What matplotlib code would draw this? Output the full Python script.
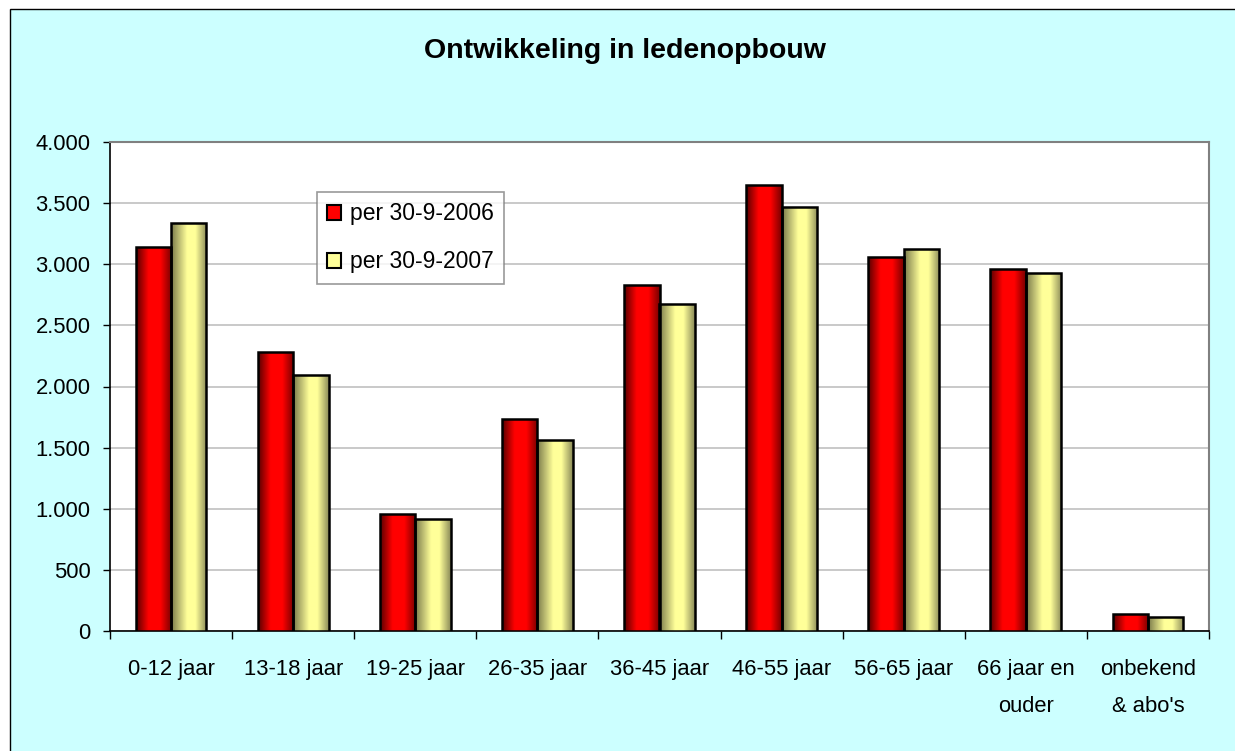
import numpy as np
import matplotlib
matplotlib.use('Agg')
import matplotlib.pyplot as plt
from matplotlib.colors import LinearSegmentedColormap
from matplotlib.patches import Patch, Rectangle
from matplotlib.ticker import FuncFormatter, MultipleLocator

plt.rcParams['font.family'] = ['Liberation Sans', 'DejaVu Sans']

categories = ['0-12 jaar', '13-18 jaar', '19-25 jaar', '26-35 jaar', '36-45 jaar',
              '46-55 jaar', '56-65 jaar', '66 jaar en\nouder', "onbekend\n& abo's"]
leden_2006 = [3140, 2286, 957, 1738, 2831, 3650, 3063, 2965, 139]
leden_2007 = [3336, 2090, 916, 1563, 2673, 3470, 3123, 2927, 115]
series_labels = ['per 30-9-2006', 'per 30-9-2007']

red_cmap = LinearSegmentedColormap.from_list(
    'red_cyl', [(0, '#560000'), (0.35, '#ff0000'), (0.68, '#ff0000'), (1, '#760000')])
yel_cmap = LinearSegmentedColormap.from_list(
    'yel_cyl', [(0, '#78784a'), (0.45, '#ffff99'), (0.68, '#ffff99'), (1, '#8a8a58')])

fig = plt.figure(figsize=(12.35, 7.51), dpi=100, facecolor='white')
# cyan chart area with a border on top and left
fig.patches.append(Rectangle((9.5 / 1235, -0.05), 1.2, 1.05 - 9.5 / 751,
                             transform=fig.transFigure, facecolor='#ccffff',
                             edgecolor='black', linewidth=1.0, zorder=-10))

ax = fig.add_axes([110 / 1235, 120 / 751, 1099 / 1235, 489 / 751])
ax.set_zorder(1)
ax.set_facecolor('white')

x = np.arange(len(categories))
w = 0.29
b1 = ax.bar(x - w / 2, leden_2006, w, facecolor='none', edgecolor='black', linewidth=1.8, zorder=4)
b2 = ax.bar(x + w / 2, leden_2007, w, facecolor='none', edgecolor='black', linewidth=1.8, zorder=4)

grad = np.linspace(0, 1, 256).reshape(1, -1)
for bars, cmap in [(b1, red_cmap), (b2, yel_cmap)]:
    for p in bars:
        x0, y0 = p.get_x(), p.get_y()
        im = ax.imshow(grad, extent=[x0, x0 + p.get_width(), y0, y0 + p.get_height()],
                       aspect='auto', cmap=cmap, zorder=3, interpolation='bilinear')
        im.set_clip_path(p)

ax.set_xlim(-0.5, len(categories) - 0.5)
ax.set_ylim(0, 4000)
ax.yaxis.set_major_locator(MultipleLocator(500))
ax.yaxis.set_major_formatter(FuncFormatter(lambda v, pos: f'{int(v):,}'.replace(',', '.')))
ax.grid(axis='y', color='#c0c0c0', linewidth=1.2, zorder=1)
ax.set_axisbelow(True)

ax.set_xticks(x)
ax.set_xticklabels(categories, linespacing=2.0)
ax.set_xticks(np.arange(-0.5, len(categories)), minor=True)
ax.tick_params(axis='x', which='major', length=0, pad=20, labelsize=15.8)
ax.tick_params(axis='x', which='minor', length=6, width=1, direction='out', color='black')
ax.tick_params(axis='y', length=5, width=1, direction='out', labelsize=15.8, pad=9)

for s in ['left', 'bottom']:
    ax.spines[s].set_color('black')
    ax.spines[s].set_linewidth(1.2)
for s in ['top', 'right']:
    ax.spines[s].set_color('#808080')
    ax.spines[s].set_linewidth(1.5)

handles = [Patch(facecolor='#ff0000', edgecolor='black', linewidth=1.5),
           Patch(facecolor='#ffff99', edgecolor='black', linewidth=1.5)]
leg = ax.legend(handles, series_labels, loc='upper left', bbox_to_anchor=(0.188, 0.898),
                fontsize=16.5, frameon=True, fancybox=False, handlelength=0.62,
                handleheight=0.62, handletextpad=0.38, labelspacing=1.1, borderpad=0.45,
                borderaxespad=0)
leg.get_frame().set_edgecolor('#808080')
leg.get_frame().set_linewidth(1.2)
leg.set_zorder(6)

fig.text(625 / 1235, 1 - 58 / 751, 'Ontwikkeling in ledenopbouw', ha='center', va='baseline',
         fontsize=20.5, fontweight='bold')

fig.savefig('out.png', dpi=100, facecolor=fig.get_facecolor())
